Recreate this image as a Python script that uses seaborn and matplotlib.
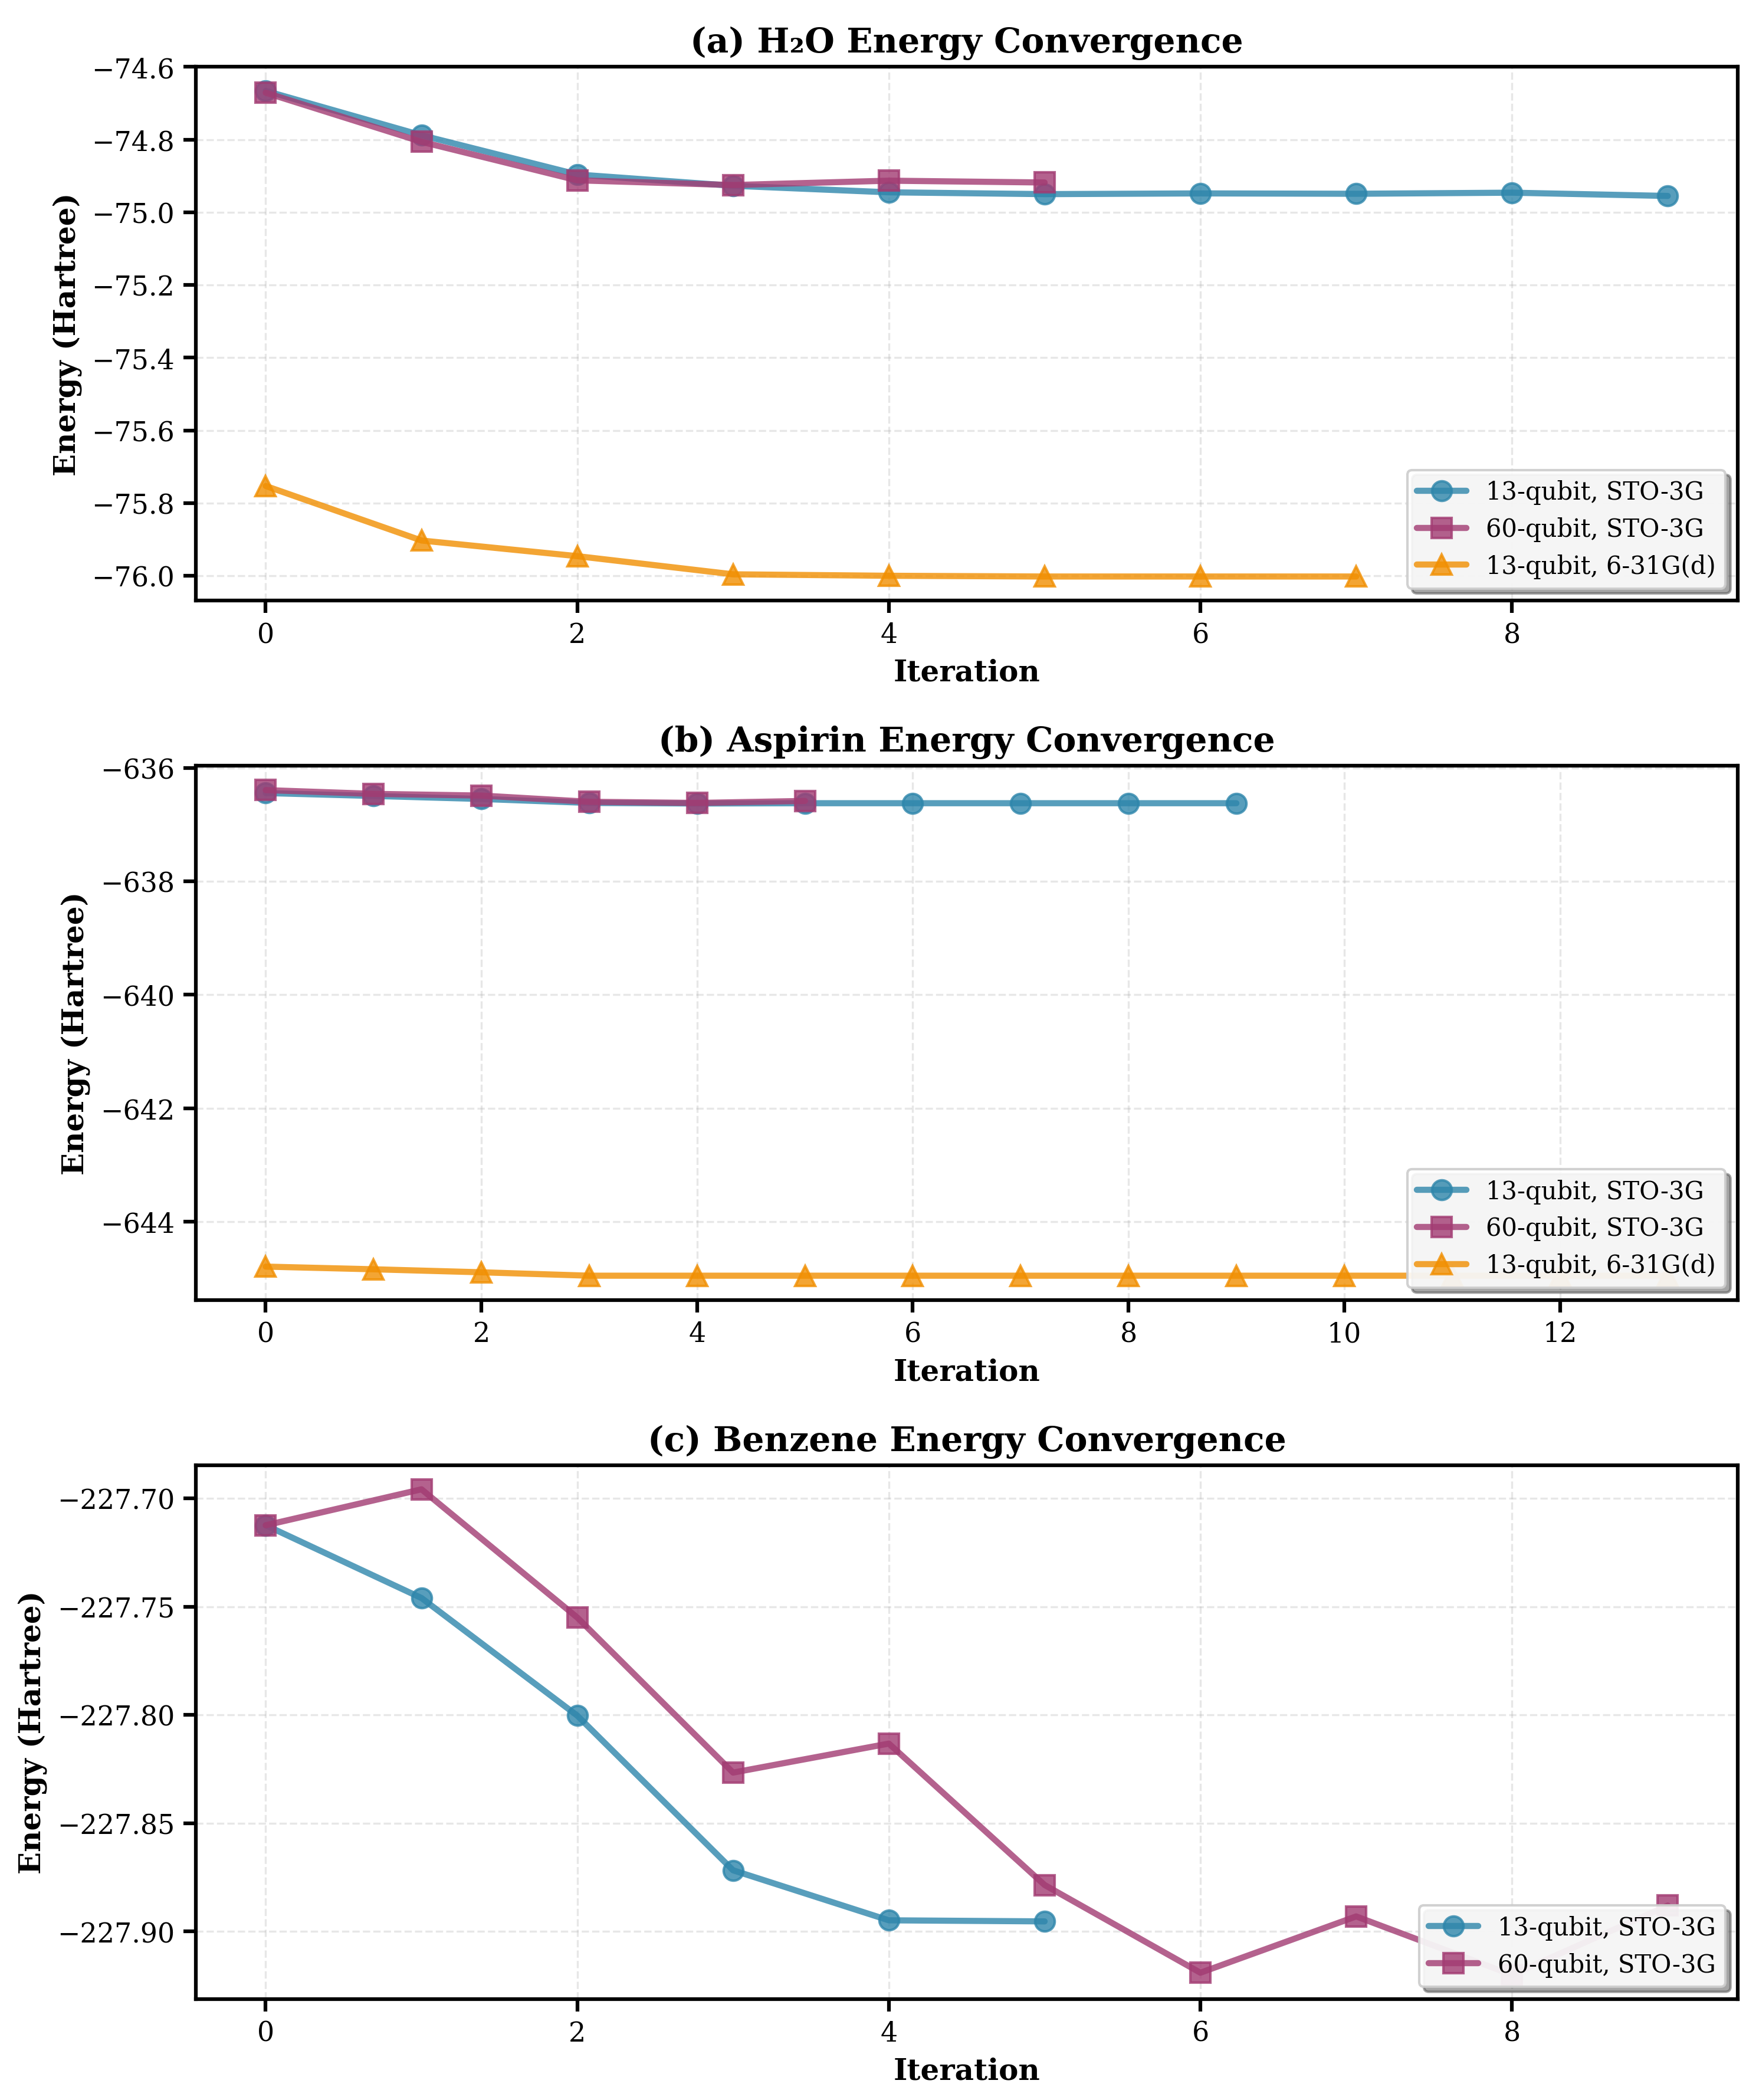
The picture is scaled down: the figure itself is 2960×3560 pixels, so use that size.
import numpy as np
import pandas as pd
import matplotlib
matplotlib.use("Agg")
import matplotlib.pyplot as plt
import seaborn as sns

# Energies (Hartree)
h2o_13_sto = [-74.666, -74.788, -74.896, -74.927, -74.945, -74.950, -74.948, -74.949, -74.946, -74.955]
h2o_60_sto = [-74.671, -74.806, -74.912, -74.925, -74.913, -74.918]
h2o_13_631 = [-75.753, -75.903, -75.946, -75.996, -76.000, -76.002, -76.002, -76.002]

asp_13_sto = [-636.446, -636.497, -636.550, -636.620, -636.630, -636.625, -636.625, -636.625, -636.625, -636.625]
asp_60_sto = [-636.394, -636.460, -636.490, -636.600, -636.620, -636.585]
asp_13_631 = [-644.790, -644.837, -644.890, -644.950, -644.950, -644.950, -644.950,
              -644.950, -644.950, -644.950, -644.950, -644.950, -644.950, -644.950]

benz_13_sto = [-227.7124, -227.7460, -227.8003, -227.8717, -227.8948, -227.8953]
benz_60_sto = [-227.7124, -227.6958, -227.7550, -227.8266, -227.8132, -227.8785,
               -227.9190, -227.8930, -227.9200, -227.8880]

LABELS = ["13-qubit, STO-3G", "60-qubit, STO-3G", "13-qubit, 6-31G(d)"]
COLORS = ["#2E86AB", "#A23B72", "#F18F01"]
MARKERS = ["o", "s", "^"]
TITLES = ["(a) H\u2082O Energy Convergence",
          "(b) Aspirin Energy Convergence",
          "(c) Benzene Energy Convergence"]

panels = [
    [h2o_13_sto, h2o_60_sto, h2o_13_631],
    [asp_13_sto, asp_60_sto, asp_13_631],
    [benz_13_sto, benz_60_sto],
]

sns.set_style("white")
plt.rcParams["font.family"] = ["DejaVu Serif"]
plt.rcParams["text.color"] = "black"
plt.rcParams["axes.labelcolor"] = "black"
plt.rcParams["xtick.color"] = "black"
plt.rcParams["ytick.color"] = "black"
plt.rcParams["axes.linewidth"] = 1.5
plt.rcParams["xtick.major.width"] = 1.5
plt.rcParams["ytick.major.width"] = 1.5
plt.rcParams["xtick.major.size"] = 5
plt.rcParams["ytick.major.size"] = 5
plt.rcParams["xtick.bottom"] = True
plt.rcParams["ytick.left"] = True

fig, axes = plt.subplots(3, 1, figsize=(9.87, 11.87), dpi=300)
fig.subplots_adjust(left=0.112, right=0.995, top=0.968, bottom=0.048, hspace=0.309)

for ax, series, title in zip(axes, panels, TITLES):
    for i, vals in enumerate(series):
        df = pd.DataFrame({"Iteration": np.arange(len(vals)), "Energy": vals})
        sns.lineplot(data=df, x="Iteration", y="Energy", ax=ax,
                     marker=MARKERS[i], markersize=8, linewidth=2.5,
                     markeredgecolor=COLORS[i], markeredgewidth=1,
                     alpha=0.8, color=COLORS[i], label=LABELS[i])
    ax.set_title(title, fontsize=14, fontweight="bold")
    ax.set_xlabel("Iteration", fontsize=12, fontweight="bold")
    ax.set_ylabel("Energy (Hartree)", fontsize=12, fontweight="bold")
    ax.tick_params(axis="both", labelsize=11)
    ax.grid(True, linestyle="--", color="#b0b0b0", alpha=0.3)
    for sp in ax.spines.values():
        sp.set_color("black")
        sp.set_linewidth(1.5)
    ax.legend(loc="lower right", fontsize=10, frameon=True, fancybox=True,
              shadow=True, framealpha=0.9)

fig.savefig("out.png", dpi=300)
